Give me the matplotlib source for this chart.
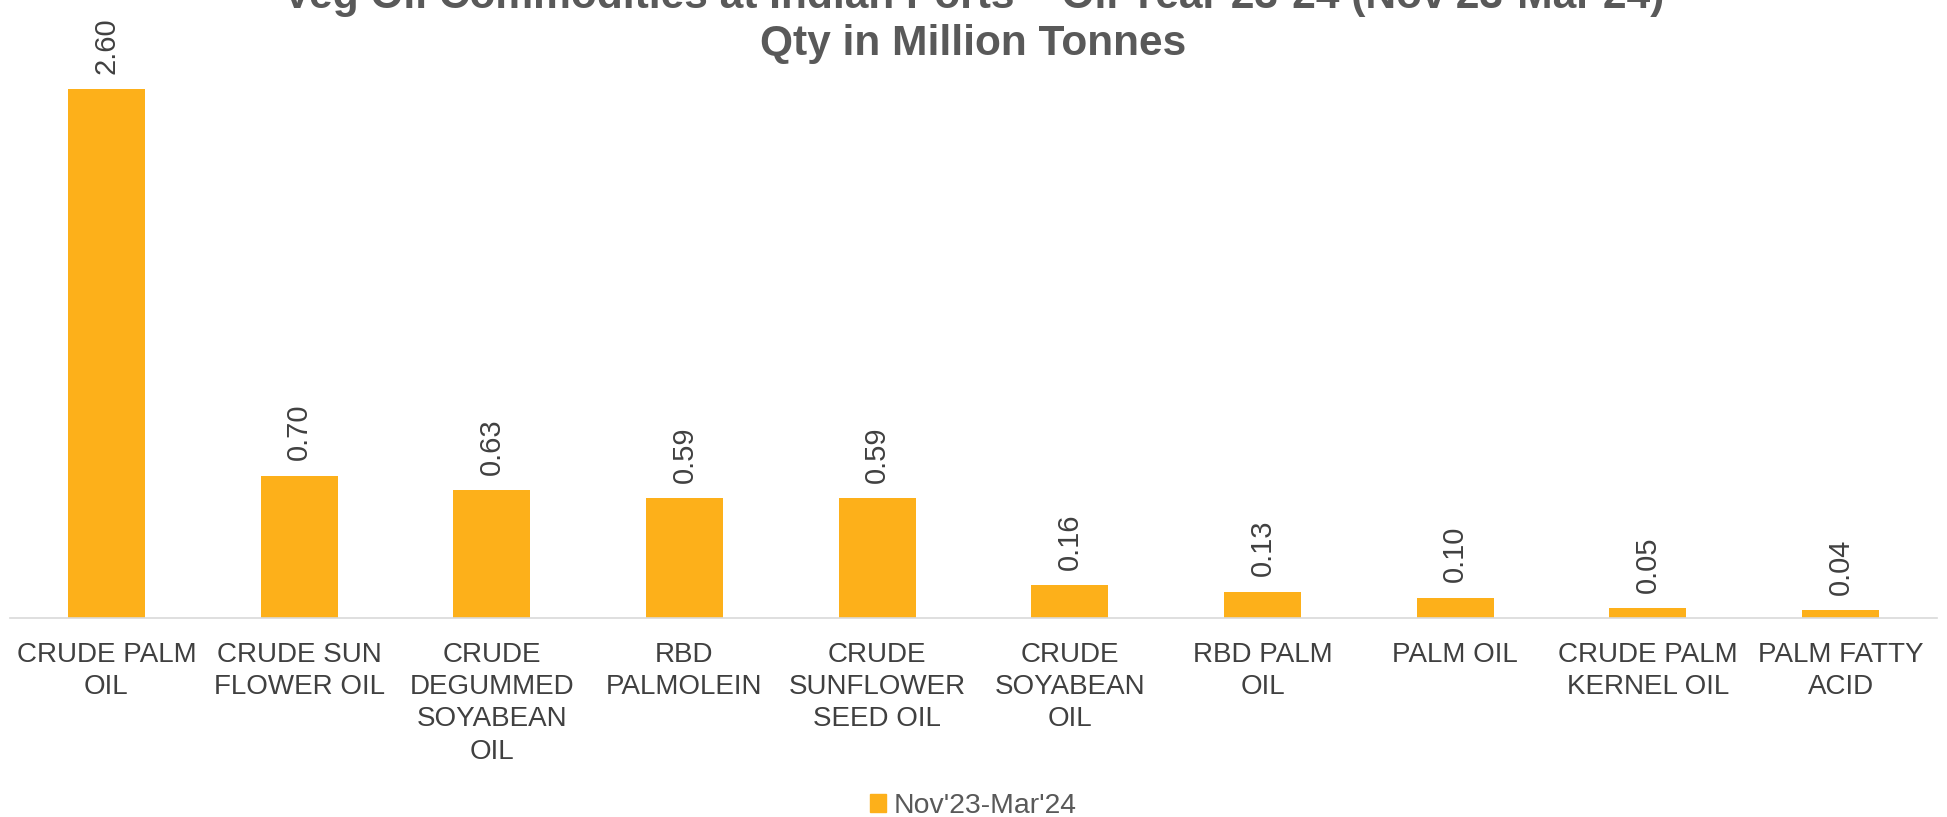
import matplotlib
matplotlib.use("Agg")
import matplotlib.pyplot as plt
from matplotlib.patches import Patch

plt.rcParams['font.family'] = ['Liberation Sans', 'DejaVu Sans']

categories = ["CRUDE PALM\nOIL", "CRUDE SUN\nFLOWER OIL", "CRUDE\nDEGUMMED\nSOYABEAN\nOIL",
              "RBD\nPALMOLEIN", "CRUDE\nSUNFLOWER\nSEED OIL", "CRUDE\nSOYABEAN\nOIL",
              "RBD PALM\nOIL", "PALM OIL", "CRUDE PALM\nKERNEL OIL", "PALM FATTY\nACID"]
values = [2.60, 0.70, 0.63, 0.59, 0.59, 0.16, 0.13, 0.10, 0.05, 0.04]
series_name = "Nov'23-Mar'24"
title = "Veg Oil Commodities at Indian Ports \u2013 Oil Year 23-24 (Nov'23-Mar'24)\nQty in Million Tonnes"

bar_color = "#FDB01A"
W, H = 1947, 817
fig = plt.figure(figsize=(W / 100, H / 100), dpi=100)
ax = fig.add_axes([10 / W, (H - 618) / H, 1927 / W, 588 / H])

x = list(range(len(categories)))
bars = ax.bar(x, values, width=0.40, color=bar_color, zorder=2)
ax.set_xlim(-0.5, len(categories) - 0.5)
ax.set_ylim(0, 2.89)

for xi, v in zip(x, values):
    ax.annotate(f"{v:.2f}", (xi, v), xytext=(0, 11), textcoords="offset points",
                rotation=90, ha="center", va="bottom", fontsize=21, color="#404040")

ax.set_xticks(x)
ax.set_xticklabels(categories, fontsize=20, color="#404040", linespacing=1.32, va="top")
ax.tick_params(axis="x", length=0, pad=17)
ax.set_yticks([])
for s in ["top", "right", "left"]:
    ax.spines[s].set_visible(False)
ax.spines["bottom"].set_color("#D9D9D9")
ax.spines["bottom"].set_linewidth(1.2)

fig.text(0.5, 1 - 55 / H, title, ha="center", va="baseline", fontsize=30.6, fontweight="bold",
         color="#595959", linespacing=1.22)

handle = Patch(facecolor=bar_color, edgecolor=bar_color)
fig.legend([handle], [series_name], loc="center", bbox_to_anchor=(0.5, 1 - 806 / H),
           frameon=False, fontsize=20.4, labelcolor="#595959", handlelength=0.55,
           handleheight=0.55, handletextpad=0.3)

fig.savefig("out.png", dpi=100)
